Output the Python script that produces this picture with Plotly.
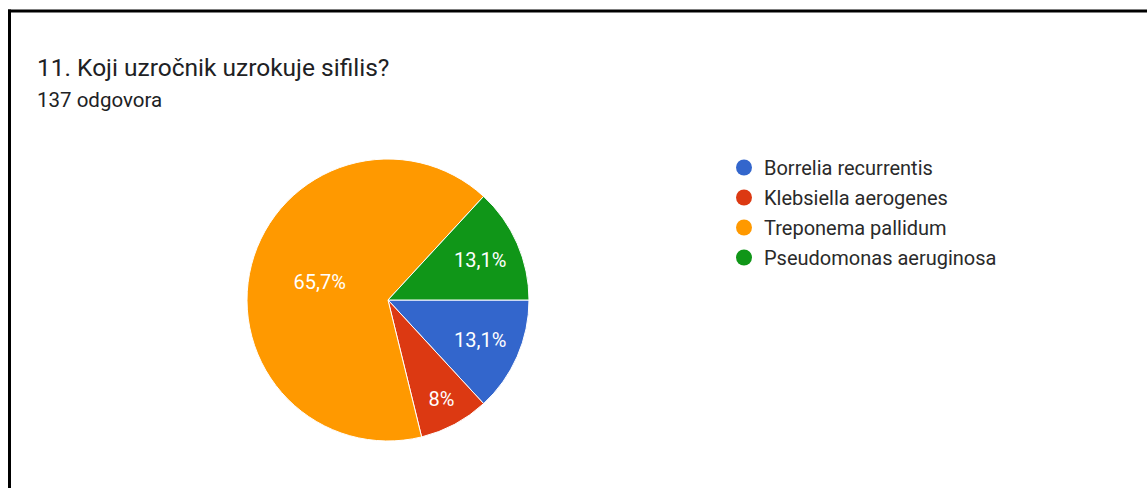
import plotly.graph_objects as go

W, H = 1147, 488

labels = ["Borrelia recurrentis", "Klebsiella aerogenes", "Treponema pallidum", "Pseudomonas aeruginosa"]
values = [18, 11, 90, 18]
colors = ["#3366CC", "#DC3912", "#FF9900", "#109618"]
title_text = "11. Koji uzročnik uzrokuje sifilis?"
subtitle_text = "137 odgovora"

def px(x):
    return x / W

def py(y):
    return 1 - y / H

cx, cy, r = 388, 300, 141

fig = go.Figure()
fig.add_trace(go.Pie(
    labels=labels, values=values, sort=False, direction="clockwise", rotation=90,
    marker=dict(colors=colors, line=dict(color="white", width=1)),
    texttemplate="%{percent:.1~%}", textposition="inside",
    insidetextorientation="horizontal",
    textfont=dict(family="Roboto, Arial, sans-serif", size=20, color="white"),
    domain=dict(x=[px(cx - r), px(cx + r)], y=[py(cy + r), py(cy - r)]),
    showlegend=False, hoverinfo="label+percent",
))

for i, (lab, col) in enumerate(zip(labels, colors)):
    fig.add_trace(go.Scatter(
        x=[None], y=[None], mode="markers", name=lab, legendgroup=f"g{i}",
        marker=dict(symbol="circle", size=16, color=col),
        showlegend=True,
    ))

fig.update_layout(
    width=W, height=H,
    margin=dict(l=0, r=0, t=0, b=0),
    paper_bgcolor="white", plot_bgcolor="white",
    separators=",.",
    xaxis=dict(visible=False), yaxis=dict(visible=False),
    legend=dict(
        x=px(724), y=py(148), xanchor="left", yanchor="top",
        font=dict(family="Roboto, Arial, sans-serif", size=20, color="#2a2a2a"),
        tracegroupgap=1, itemwidth=30, bgcolor="rgba(0,0,0,0)",
    ),
    annotations=[
        dict(text=title_text, x=px(35), y=py(67), xref="paper", yref="paper",
             xanchor="left", yanchor="middle", showarrow=False,
             font=dict(family="Roboto, Arial, sans-serif", size=24.5, color="#202124")),
        dict(text=subtitle_text, x=px(35), y=py(100), xref="paper", yref="paper",
             xanchor="left", yanchor="middle", showarrow=False,
             font=dict(family="Roboto, Arial, sans-serif", size=20.5, color="#202124")),
    ],
    shapes=[
        dict(type="line", xref="paper", yref="paper", x0=px(8), x1=1, y0=py(11), y1=py(11),
             line=dict(color="black", width=3)),
        dict(type="line", xref="paper", yref="paper", x0=px(9.5), x1=px(9.5), y0=py(9.5), y1=0,
             line=dict(color="black", width=3)),
    ],
)

fig.write_html(
    "out.html",
    config={"displayModeBar": False},
    post_script="document.body.style.margin='0';document.body.style.overflow='hidden';",
)
